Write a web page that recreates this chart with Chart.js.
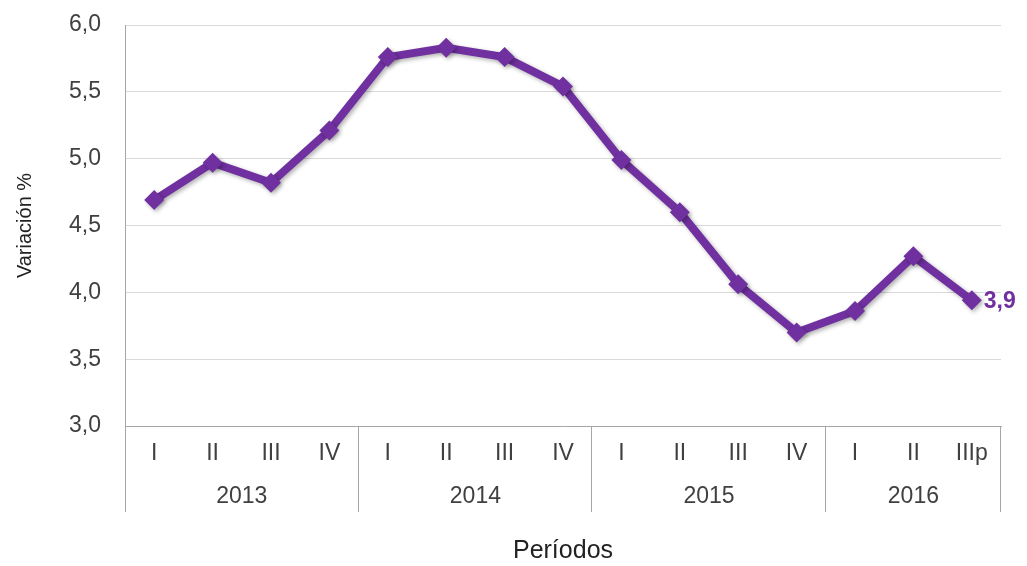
<!DOCTYPE html>
<html lang="es">
<head>
  <meta charset="UTF-8" />
  <title>Variación % por períodos</title>
  <script src="https://cdn.jsdelivr.net/npm/chart.js"></script>
  <style>
    body { margin: 0; background: #fff; font-family: 'Liberation Sans', Arial, sans-serif; }
    #wrap { width: 1027px; height: 566px; position: relative; }
  </style>
</head>
<body>
  <div id="wrap"><canvas id="grafico"></canvas></div>

  <script>
    // Datos
    const trimestres = ['I', 'II', 'III', 'IV', 'I', 'II', 'III', 'IV', 'I', 'II', 'III', 'IV', 'I', 'II', 'IIIp'];
    const anios = ['2013', '2013', '2013', '2013', '2014', '2014', '2014', '2014',
                   '2015', '2015', '2015', '2015', '2016', '2016', '2016'];
    const variacion = [4.69, 4.97, 4.82, 5.21, 5.76, 5.83, 5.76, 5.54, 4.99, 4.60, 4.06, 3.70, 3.86, 4.27, 3.94];

    const morado = '#7030A0';
    const gris = '#404040';
    const marco = '#a6a6a6';
    const fuente = '"Liberation Sans", Arial, sans-serif';

    const coma = v => v.toFixed(1).replace('.', ',');

    // sombra suave bajo la línea
    const sombra = {
      id: 'sombra',
      beforeDatasetsDraw(chart) {
        const c = chart.ctx;
        c.save();
        c.shadowColor = 'rgba(0,0,0,0.3)';
        c.shadowBlur = 4;
        c.shadowOffsetX = 2;
        c.shadowOffsetY = 2;
      },
      afterDatasetsDraw(chart) {
        chart.ctx.restore();
      }
    };

    // años y separadores bajo el eje x, etiqueta del último punto
    const ejeAnios = {
      id: 'ejeAnios',
      afterDraw(chart) {
        const c = chart.ctx;
        const x = chart.scales.x;
        const area = chart.chartArea;
        const fondo = 512;
        c.save();
        c.strokeStyle = marco;
        c.lineWidth = 1;

        // agrupar por año
        const grupos = [];
        anios.forEach((a, i) => {
          if (!grupos.length || grupos[grupos.length - 1].anio !== a) grupos.push({ anio: a, ini: i, fin: i });
          else grupos[grupos.length - 1].fin = i;
        });

        const borde = i => {
          if (i <= 0) return area.left;
          if (i >= anios.length) return area.right;
          return (x.getPixelForValue(i - 1) + x.getPixelForValue(i)) / 2;
        };

        c.font = '23px ' + fuente;
        c.fillStyle = gris;
        c.textAlign = 'center';
        c.textBaseline = 'middle';
        grupos.forEach((g, k) => {
          const x0 = Math.round(borde(g.ini)) + 0.5;
          const x1 = Math.round(borde(g.fin + 1)) - 0.5;
          c.beginPath();
          if (k === 0) { c.moveTo(x0, area.bottom); c.lineTo(x0, fondo); }
          c.moveTo(x1, area.bottom); c.lineTo(x1, fondo);
          c.stroke();
          c.fillText(g.anio, (borde(g.ini) + borde(g.fin + 1)) / 2, 497);
        });

        // etiqueta del último valor
        const meta = chart.getDatasetMeta(0);
        const ult = meta.data[meta.data.length - 1];
        c.font = 'bold 23px ' + fuente;
        c.fillStyle = morado;
        c.textAlign = 'left';
        c.fillText(coma(variacion[variacion.length - 1]), ult.x + 12, ult.y + 1);
        c.restore();
      }
    };

    new Chart(document.getElementById('grafico'), {
      type: 'line',
      data: {
        labels: trimestres,
        datasets: [{
          data: variacion,
          borderColor: morado,
          backgroundColor: morado,
          borderWidth: 8,
          pointStyle: 'rectRot',
          pointRadius: 10,
          pointBorderWidth: 0,
          pointBackgroundColor: morado,
          tension: 0,
          clip: false
        }]
      },
      options: {
        responsive: true,
        maintainAspectRatio: false,
        animation: false,
        layout: { padding: { top: 25, right: 26, left: 0, bottom: 0 } },
        plugins: {
          legend: { display: false },
          tooltip: { enabled: false }
        },
        scales: {
          x: {
            offset: true,
            grid: { display: false, drawTicks: false },
            border: { display: true, color: marco, width: 1 },
            ticks: {
              color: gris,
              font: { size: 23, family: fuente },
              padding: 14,
              maxRotation: 0,
              autoSkip: false
            },
            title: {
              display: true,
              text: 'Períodos',
              color: '#222',
              font: { size: 25, family: fuente },
              padding: { top: 0, bottom: 0 }
            },
            afterFit(s) { s.height = 140; }
          },
          y: {
            min: 3,
            max: 6,
            grid: { color: '#d9d9d9', drawTicks: true, tickLength: 24, tickColor: 'rgba(0,0,0,0)' },
            border: { display: true, color: marco, width: 1 },
            ticks: {
              stepSize: 0.5,
              color: gris,
              font: { size: 23, family: fuente },
              padding: 0,
              callback: v => coma(v)
            },
            title: {
              display: true,
              text: 'Variación %',
              color: '#222',
              font: { size: 20, family: fuente },
              padding: { top: 13, bottom: 0 }
            },
            afterFit(s) { s.width = 125; }
          }
        }
      },
      plugins: [sombra, ejeAnios]
    });
  </script>
</body>
</html>
